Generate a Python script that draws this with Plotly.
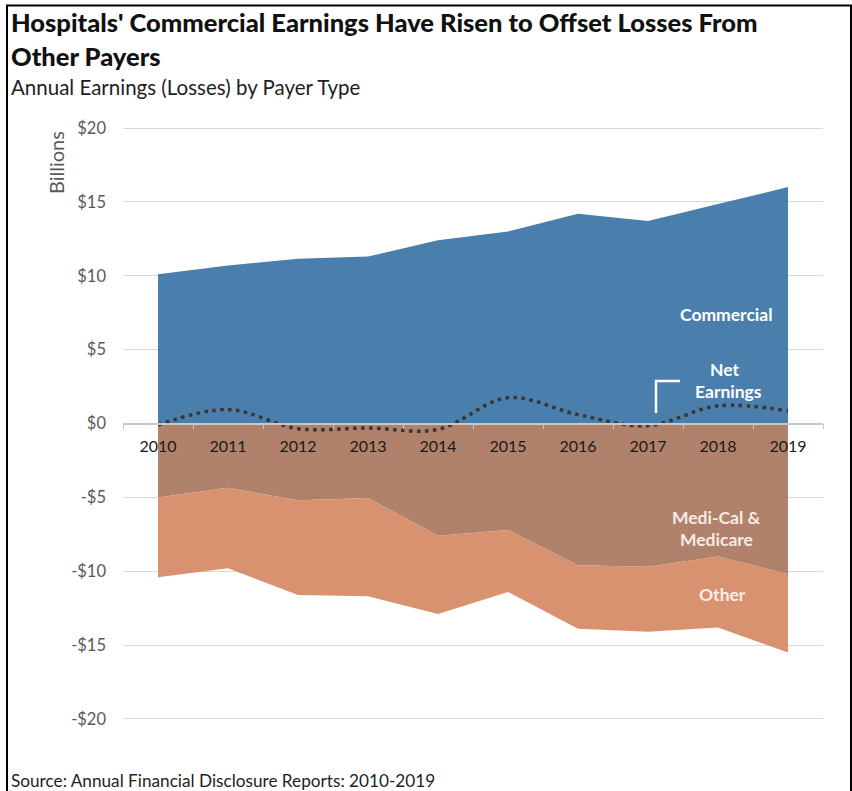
import plotly.graph_objects as go

# Annual earnings (losses) by payer type, billions of dollars
years = ["2010", "2011", "2012", "2013", "2014", "2015", "2016", "2017", "2018", "2019"]
commercial = [10.1, 10.7, 11.15, 11.3, 12.4, 13.0, 14.2, 13.7, 14.85, 16.0]
medi_cal_medicare = [-5.0, -4.35, -5.2, -5.05, -7.6, -7.2, -9.6, -9.7, -9.0, -10.2]
# cumulative lower edge of the "Other" band (stacked under Medi-Cal & Medicare)
other_stacked = [-10.4, -9.8, -11.6, -11.7, -12.9, -11.4, -13.9, -14.1, -13.8, -15.5]
net_earnings = [-0.1, 0.95, -0.35, -0.3, -0.4, 1.75, 0.6, -0.15, 1.2, 0.85]

y_ticks = [-20, -15, -10, -5, 0, 5, 10, 15, 20]
y_tick_text = ["-$20", "-$15", "-$10", "-$5", "$0", "$5", "$10", "$15", "$20"]

W, H = 852, 791
L, R, T, B = 123, 29, 110, 50
PW, PH = W - L - R, H - T - B
Y_RANGE = [-21.49, 21.22]


def px(x):
    return (x - L) / PW


def py(y):
    return (T + PH - y) / PH


FONT = "Lato, 'Open Sans', sans-serif"

fig = go.Figure()

fig.add_trace(go.Scatter(
    x=years, y=commercial, mode="lines", line=dict(width=0),
    fill="tozeroy", fillcolor="rgba(54,112,164,0.9)", name="Commercial",
    hoverinfo="x+y",
))
fig.add_trace(go.Scatter(
    x=years, y=medi_cal_medicare, mode="lines", line=dict(width=0),
    fill="tozeroy", fillcolor="rgba(167,116,92,0.9)", name="Medi-Cal & Medicare",
    hoverinfo="x+y",
))
fig.add_trace(go.Scatter(
    x=years, y=other_stacked, mode="lines", line=dict(width=0),
    fill="tonexty", fillcolor="rgba(212,134,95,0.9)", name="Other",
    hoverinfo="x+y",
))
fig.add_trace(go.Scatter(
    x=years, y=net_earnings, mode="lines",
    line=dict(color="#3d3330", width=3.5, dash="3.5px,4.5px", shape="spline", smoothing=1),
    name="Net Earnings", hoverinfo="x+y",
))

zero_pos = (0 - Y_RANGE[0]) / (Y_RANGE[1] - Y_RANGE[0])

fig.update_layout(
    width=W, height=H,
    margin=dict(l=L, r=R, t=T, b=B),
    paper_bgcolor="white", plot_bgcolor="white",
    showlegend=False,
    font=dict(family=FONT, color="#595959"),
    xaxis=dict(
        type="category", range=[-0.5, 9.5],
        anchor="free", position=zero_pos,
        showgrid=False, zeroline=False,
        showline=True, linecolor="#c8c8c8", linewidth=1.5,
        ticks="outside", tickson="boundaries", ticklen=5, tickcolor="#c8c8c8",
        ticklabelstandoff=9,
        tickfont=dict(family=FONT, size=16, color="#1a1a1a"),
        layer="above traces",
    ),
    yaxis=dict(
        range=Y_RANGE, tickvals=y_ticks, ticktext=y_tick_text,
        showgrid=True, gridcolor="#d9d9d9", gridwidth=1,
        zeroline=False, showline=False, ticks="",
        ticklabelstandoff=16,
        tickfont=dict(family=FONT, size=16.5, color="#595959"),
    ),
)

annotations = [
    dict(text="Hospitals' Commercial Earnings Have Risen to Offset Losses From",
         x=px(9), y=py(22), xanchor="left", yanchor="middle",
         font=dict(family=FONT, size=25.5, color="#111111", weight=900)),
    dict(text="Other Payers",
         x=px(9), y=py(56), xanchor="left", yanchor="middle",
         font=dict(family=FONT, size=25.5, color="#111111", weight=900)),
    dict(text="Annual Earnings (Losses) by Payer Type",
         x=px(9), y=py(87), xanchor="left", yanchor="middle",
         font=dict(family=FONT, size=20.5, color="#1e1e1e")),
    dict(text="Billions", textangle=-90,
         x=px(56), y=py(163), xanchor="center", yanchor="middle",
         font=dict(family=FONT, size=20, color="#595959")),
    dict(text="Source: Annual Financial Disclosure Reports: 2010-2019",
         x=px(9), y=py(780), xanchor="left", yanchor="middle",
         font=dict(family=FONT, size=17.2, color="#1e1e1e")),
    dict(text="<b>Commercial</b>", x=px(726), y=py(314),
         xanchor="center", yanchor="middle",
         font=dict(family=FONT, size=17.5, color="white")),
    dict(text="<b>Net</b>", x=px(724), y=py(369),
         xanchor="center", yanchor="middle",
         font=dict(family=FONT, size=17.5, color="white")),
    dict(text="<b>Earnings</b>", x=px(728), y=py(391),
         xanchor="center", yanchor="middle",
         font=dict(family=FONT, size=17.5, color="white")),
    dict(text="<b>Medi-Cal &amp;</b>", x=px(716), y=py(517),
         xanchor="center", yanchor="middle",
         font=dict(family=FONT, size=17.5, color="#f7ebe4")),
    dict(text="<b>Medicare</b>", x=px(716), y=py(539),
         xanchor="center", yanchor="middle",
         font=dict(family=FONT, size=17.5, color="#f7ebe4")),
    dict(text="<b>Other</b>", x=px(722), y=py(594),
         xanchor="center", yanchor="middle",
         font=dict(family=FONT, size=17.5, color="#fbeee6")),
]
for a in annotations:
    a.update(xref="paper", yref="paper", showarrow=False)
fig.update_layout(annotations=annotations)

shapes = [
    # callout bracket for the net earnings label
    dict(type="path", xref="paper", yref="paper",
         path=f"M {px(656)},{py(413)} L {px(656)},{py(381)} L {px(680)},{py(381)}",
         line=dict(color="white", width=2.5)),
    # frame around the graphic
    dict(type="line", xref="paper", yref="paper",
         x0=px(7), x1=px(7), y0=py(5), y1=py(792), line=dict(color="black", width=2)),
    dict(type="line", xref="paper", yref="paper",
         x0=px(6), x1=px(852), y0=py(5.5), y1=py(5.5), line=dict(color="black", width=2)),
    dict(type="line", xref="paper", yref="paper",
         x0=px(851), x1=px(851), y0=py(5), y1=py(792), line=dict(color="black", width=2)),
]
fig.update_layout(shapes=shapes)

fig.write_html("out.html")
